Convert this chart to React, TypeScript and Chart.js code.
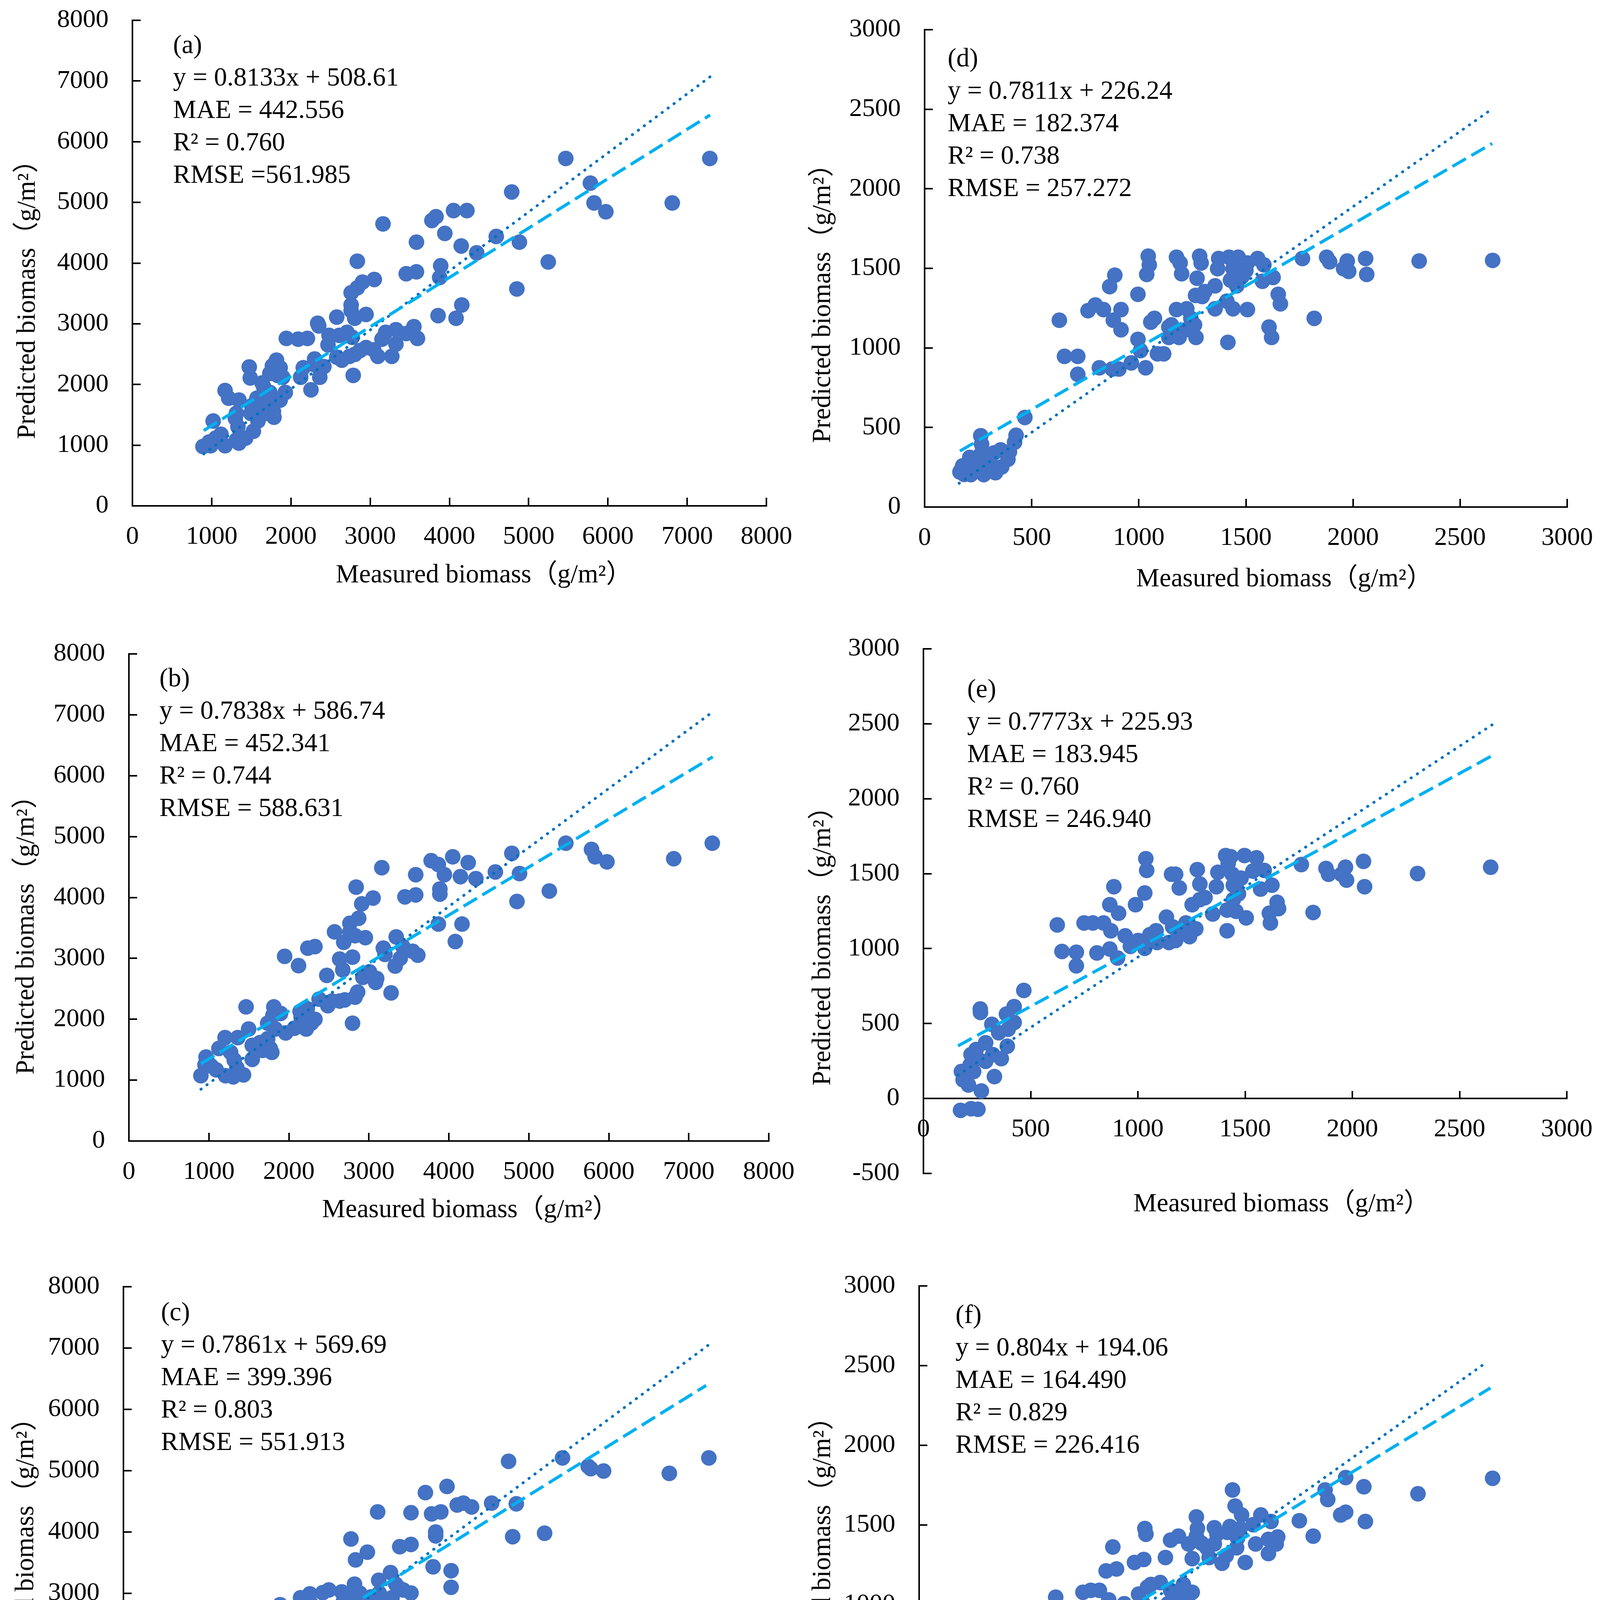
import React, { useEffect, useRef } from "react";
import { Chart, registerables } from "chart.js";

Chart.register(...registerables);

const SERIF = '"Liberation Serif", "Times New Roman", "Noto Sans CJK SC", serif';

// ---------- tick values ----------
const TICKS_8000 = [0, 1000, 2000, 3000, 4000, 5000, 6000, 7000, 8000];
const TICKS_3000 = [0, 500, 1000, 1500, 2000, 2500, 3000];
const TICKS_E_Y = [-500, 0, 500, 1000, 1500, 2000, 2500, 3000];

const X_TITLE = "Measured biomass（g/m²）";
const Y_TITLE = "Predicted biomass（g/m²）";

// ---------- panel (a) ----------
const A_POINTS = [[5468,5724],[7286,5724],[5779,5317],[4786,5172],[5825,4991],[6812,4991],[5974,4846],[4052,4865],[4221,4865],[3831,4765],[3779,4702],[3162,4646],[3942,4489],[4591,4439],[4883,4345],[3584,4345],[4149,4282],[4344,4169],[2838,4031],[5247,4019],[3890,3956],[3455,3824],[3584,3856],[3877,3762],[3052,3730],[2903,3687],[2838,3592],[2760,3511],[4851,3574],[4156,3310],[3857,3135],[4084,3091],[2578,3110],[2948,3154],[2760,3310],[2760,3216],[2805,3091],[2338,3009],[2351,2966],[3325,2903],[3195,2859],[3552,2953],[3455,2840],[2610,2809],[2708,2859],[2773,2777],[3597,2759],[3149,2746],[3325,2665],[1942,2759],[2091,2746],[2208,2759],[2481,2809],[2468,2652],[2948,2608],[2870,2558],[3045,2571],[3097,2464],[3273,2464],[2805,2495],[2740,2464],[2643,2401],[2578,2451],[2299,2420],[2305,2320],[2416,2295],[1818,2401],[1864,2276],[1766,2307],[1831,2150],[1734,2182],[2156,2276],[2123,2119],[2364,2119],[1896,2119],[1636,2025],[2786,2150],[1474,2288],[1487,2107],[1656,1962],[1734,1868],[1929,1868],[1864,1743],[2253,1912],[1169,1900],[1214,1774],[1344,1743],[1571,1774],[1701,1743],[1506,1649],[1604,1618],[1766,1649],[1779,1555],[1701,1524],[1786,1461],[1312,1524],[1299,1442],[1494,1524],[1584,1398],[1019,1398],[1331,1304],[1526,1229],[1117,1179],[1052,1116],[968,1053],[890,978],[987,991],[1169,991],[1312,1085],[1429,1116],[1344,1034]];
const A_TREND_X = [900, 7290];
const A_TREND_Y = [1241, 6440];
const A_REF_X = [900, 7290];
const A_REF_Y = [855, 7070];
const A_NOTES = ["(a)", "y = 0.8133x + 508.61", "MAE = 442.556", "R² = 0.760", "RMSE =561.985"];

// ---------- panel (b) ----------
const B_POINTS = [[5463,4891],[7294,4891],[5784,4789],[5829,4668],[6812,4636],[5977,4585],[4788,4725],[4049,4668],[3779,4604],[3869,4540],[4242,4572],[3162,4489],[3945,4374],[4582,4419],[4884,4393],[3586,4374],[4145,4342],[4338,4310],[2841,4170],[5257,4106],[3888,4138],[3888,4055],[3586,4042],[3451,4010],[3053,3991],[2911,3895],[4852,3934],[2873,3659],[2763,3576],[3869,3563],[4165,3563],[2763,3435],[2571,3435],[2828,3372],[3342,3352],[4081,3276],[2956,3340],[2686,3263],[2326,3193],[2237,3167],[3181,3167],[3201,3065],[3425,3193],[3548,3116],[3612,3052],[1947,3033],[2796,3020],[2635,2988],[3393,3001],[3329,2874],[2121,2880],[2674,2810],[2474,2720],[3008,2778],[2925,2688],[3098,2669],[3085,2605],[3278,2433],[2860,2446],[2828,2363],[2699,2318],[2635,2299],[2539,2299],[2796,1935],[2378,2331],[2487,2222],[2326,1999],[2281,1935],[2217,1839],[2140,2126],[2230,2171],[2153,2031],[1812,2203],[1896,2095],[1800,2063],[1735,1935],[1831,1839],[1960,1775],[2069,1852],[1465,2203],[1497,1839],[1542,1571],[1639,1616],[1735,1679],[1767,1520],[1787,1456],[1671,1488],[1542,1341],[1607,1488],[1202,1699],[1362,1699],[1125,1520],[1272,1456],[1317,1328],[1350,1200],[964,1379],[951,1252],[1028,1232],[1092,1169],[1208,1073],[1305,1054],[1433,1086],[900,1073],[983,1296]];
const B_TREND_X = [900, 7300];
const B_TREND_Y = [1270, 6309];
const B_REF_X = [900, 7260];
const B_REF_Y = [850, 7010];
const B_NOTES = ["(b)", "y = 0.7838x + 586.74", "MAE = 452.341", "R² = 0.744", "RMSE = 588.631"];

// ---------- panel (c) ----------
const C_POINTS = [[5463,5209],[7284,5209],[4792,5153],[5783,5071],[5815,5033],[5974,4995],[6792,4957],[4026,4743],[3757,4643],[4153,4441],[4230,4472],[4332,4409],[4581,4472],[4888,4460],[3163,4328],[3578,4315],[3834,4296],[3949,4328],[3885,4000],[3885,3937],[5240,3981],[4843,3924],[2831,3887],[3438,3761],[3578,3798],[3035,3672],[2888,3546],[3853,3433],[4077,3370],[3323,3339],[4077,3099],[3176,3213],[2875,3150],[3387,3150],[3419,3099],[2556,3055],[2479,3011],[2319,2992],[2204,2929],[2716,3024],[2939,3005],[3182,3005],[3578,3005],[3482,3055],[3080,2942],[2831,2929],[1949,2816],[2332,2835],[2735,2866],[3016,2866],[3304,2866],[3208,2753],[3342,2929],[2875,2803],[2652,2740],[2460,2740],[2109,2677],[3003,2740],[2856,2665],[2760,2583],[2300,2564],[2364,2501],[2588,2488],[2652,2457],[2441,2287],[2281,2249],[2172,2110],[2141,2142],[1789,2331],[1457,2142],[1789,2110],[1853,2047],[1917,1984],[2377,1997],[2249,1921],[2045,1921],[2780,2016],[1502,1846],[1789,1858],[1661,1795],[1885,1795],[1949,1827],[1693,1701],[1789,1638],[1585,1638],[1565,1512],[1789,1543],[1534,1405],[1182,1575],[1227,1682],[1342,1638],[1278,1405],[1310,1291],[1329,1209],[1419,1209],[1137,1178],[1022,1228],[958,1165],[882,1165],[1086,1134],[1182,1165]];
const C_TREND_X = [895, 7250];
const C_TREND_Y = [1235, 6390];
const C_REF_X = [895, 7285];
const C_REF_Y = [830, 7055];
const C_NOTES = ["(c)", "y = 0.7861x + 569.69", "MAE = 399.396", "R² = 0.803", "RMSE = 551.913"];

// ---------- panel (d) ----------
const D_POINTS = [[2652,1550],[2309,1546],[2059,1562],[2064,1462],[1973,1546],[1980,1481],[1956,1498],[1877,1570],[1891,1541],[1764,1562],[1819,1186],[1651,1337],[1661,1277],[1608,1131],[1620,1066],[1627,1443],[1577,1419],[1555,1562],[1584,1522],[1507,1241],[1507,1534],[1500,1486],[1483,1450],[1464,1570],[1421,1570],[1471,1529],[1440,1498],[1428,1426],[1411,1294],[1440,1246],[1416,1035],[1457,1390],[1373,1562],[1368,1498],[1356,1390],[1356,1246],[1308,1354],[1296,1323],[1284,1577],[1291,1534],[1272,1438],[1265,1330],[1260,1145],[1267,1066],[1243,1186],[1224,1246],[1219,1114],[1176,1570],[1193,1534],[1200,1466],[1176,1241],[1188,1066],[1152,1145],[1140,1066],[1140,1131],[1073,1186],[1056,1162],[1044,1577],[1049,1522],[1037,1462],[1087,963],[1116,963],[1008,983],[996,1054],[996,1337],[1032,875],[965,906],[917,1114],[917,1241],[888,1457],[864,1385],[881,1174],[876,867],[907,867],[816,875],[835,1241],[797,1270],[763,1234],[715,947],[715,834],[653,947],[629,1174],[468,563],[427,451],[420,407],[396,347],[389,300],[355,359],[360,252],[324,340],[300,288],[276,228],[264,335],[252,300],[211,312],[262,448],[266,395],[221,252],[168,228],[192,216],[165,220],[178,259],[240,276],[276,204],[324,252],[331,216],[216,204],[185,205]];
const D_TREND_X = [165, 2650];
const D_TREND_Y = [352, 2285];
const D_REF_X = [161, 2652];
const D_REF_Y = [149, 2504];
const D_NOTES = ["(d)", "y = 0.7811x + 226.24", "MAE = 182.374", "R² = 0.738", "RMSE = 257.272"];

// ---------- panel (e) ----------
const E_POINTS = [[2645,1543],[2304,1501],[2052,1582],[2057,1413],[1968,1543],[1973,1457],[1949,1496],[1877,1535],[1889,1496],[1762,1561],[1817,1241],[1625,1423],[1649,1309],[1656,1267],[1613,1236],[1618,1171],[1572,1397],[1553,1606],[1589,1522],[1536,1517],[1497,1621],[1505,1205],[1481,1470],[1457,1418],[1469,1366],[1433,1613],[1409,1621],[1421,1569],[1440,1496],[1445,1423],[1445,1327],[1416,1257],[1416,1119],[1457,1249],[1373,1509],[1366,1413],[1349,1231],[1313,1340],[1289,1327],[1277,1527],[1289,1431],[1270,1132],[1253,1293],[1241,1080],[1224,1171],[1205,1119],[1193,1405],[1176,1496],[1157,1496],[1162,1145],[1133,1210],[1145,1041],[1176,1054],[1085,1119],[1056,1093],[1049,1054],[1090,1041],[1037,1600],[1041,1522],[1032,1371],[989,1293],[1001,1054],[1032,1002],[965,1015],[941,1085],[910,1236],[888,1413],[869,1293],[874,1119],[869,997],[905,937],[809,971],[840,1171],[790,1171],[749,1171],[713,976],[713,885],[646,981],[624,1158],[173,-79],[222,-68],[254,-72],[270,50],[331,146],[185,124],[210,90],[234,180],[177,180],[218,225],[250,270],[222,293],[246,327],[290,248],[323,293],[363,266],[391,349],[290,372],[319,495],[351,439],[395,462],[423,507],[387,563],[423,613],[266,574],[265,597],[468,721]];
const E_TREND_X = [161, 2657];
const E_TREND_Y = [351, 2291];
const E_REF_X = [161, 2657];
const E_REF_Y = [156, 2498];
const E_NOTES = ["(e)", "y = 0.7773x + 225.93", "MAE = 183.945", "R² = 0.760", "RMSE = 246.940"];

// ---------- panel (f) ----------
const F_POINTS = [[2650,1793],[2305,1696],[2055,1740],[2062,1522],[1971,1798],[1971,1580],[1948,1563],[1876,1720],[1888,1660],[1757,1527],[1821,1430],[1657,1425],[1650,1381],[1614,1321],[1614,1410],[1626,1522],[1579,1563],[1543,1502],[1555,1381],[1507,1265],[1490,1563],[1483,1478],[1471,1417],[1448,1720],[1460,1619],[1436,1490],[1424,1454],[1419,1308],[1467,1357],[1400,1260],[1364,1483],[1376,1442],[1364,1381],[1329,1357],[1340,1296],[1305,1386],[1281,1551],[1286,1478],[1281,1430],[1245,1381],[1262,1289],[1262,1078],[1245,1006],[1233,1071],[1198,1430],[1162,1405],[1221,1127],[1198,1066],[1181,1018],[1162,1090],[1138,1296],[1150,1006],[1114,1139],[1071,1127],[1055,1110],[1043,1478],[1048,1442],[1038,1284],[995,1265],[1014,1066],[1031,1018],[1002,897],[948,1006],[912,1224],[895,1362],[864,1212],[876,1030],[876,974],[810,926],[833,1090],[793,1090],[757,1078],[912,727],[710,751],[710,671],[650,872],[631,1047],[471,497],[424,521],[419,460],[424,412],[395,388],[364,327],[388,339],[329,279],[305,327],[300,388],[276,363],[269,303],[245,388],[233,339],[221,242],[186,254],[174,230],[210,291],[281,230],[293,267],[257,254],[245,206],[165,230],[210,218]];
const F_TREND_X = [169, 2640];
const F_TREND_Y = [318, 2360];
const F_REF_X = [169, 2626];
const F_REF_Y = [150, 2525];
const F_NOTES = ["(f)", "y = 0.804x + 194.06", "MAE = 164.490", "R² = 0.829", "RMSE = 226.416"];

type Spec = {
  points: number[][];
  trendX: number[];
  trendY: number[];
  refX: number[];
  refY: number[];
  notes: string[];
  xTicks: number[];
  yTicks: number[];
  crossZero?: boolean;
  L: number; R: number; T: number; B: number;
  noteX: number; noteY: number;
  xtX: number; xtY: number;
  ytX: number; ytY: number;
};

const PANELS: Spec[] = [
  { points: A_POINTS, trendX: A_TREND_X, trendY: A_TREND_Y, refX: A_REF_X, refY: A_REF_Y, notes: A_NOTES, xTicks: TICKS_8000, yTicks: TICKS_8000,
    L: 339, R: 1962, T: 52, B: 1295, noteX: 443, noteY: 113, xtX: 1239, xtY: 1468, ytX: 66, ytY: 750 },
  { points: B_POINTS, trendX: B_TREND_X, trendY: B_TREND_Y, refX: B_REF_X, refY: B_REF_Y, notes: B_NOTES, xTicks: TICKS_8000, yTicks: TICKS_8000,
    L: 330, R: 1968, T: 1674, B: 2921, noteX: 408, noteY: 1734, xtX: 1204, xtY: 3093, ytX: 63, ytY: 2377 },
  { points: C_POINTS, trendX: C_TREND_X, trendY: C_TREND_Y, refX: C_REF_X, refY: C_REF_Y, notes: C_NOTES, xTicks: TICKS_8000, yTicks: TICKS_8000,
    L: 316, R: 1962, T: 3294, B: 4550, noteX: 412, noteY: 3357, xtX: 1221, xtY: 4722, ytX: 62, ytY: 3970 },
  { points: D_POINTS, trendX: D_TREND_X, trendY: D_TREND_Y, refX: D_REF_X, refY: D_REF_Y, notes: D_NOTES, xTicks: TICKS_3000, yTicks: TICKS_3000,
    L: 2367, R: 4012, T: 76, B: 1298, noteX: 2426, noteY: 147, xtX: 3288, xtY: 1478, ytX: 2102, ytY: 760 },
  { points: E_POINTS, trendX: E_TREND_X, trendY: E_TREND_Y, refX: E_REF_X, refY: E_REF_Y, notes: E_NOTES, xTicks: TICKS_3000, yTicks: TICKS_E_Y, crossZero: true,
    L: 2364, R: 4011, T: 1661, B: 3004, noteX: 2476, noteY: 1762, xtX: 3281, xtY: 3078, ytX: 2102, ytY: 2405 },
  { points: F_POINTS, trendX: F_TREND_X, trendY: F_TREND_Y, refX: F_REF_X, refY: F_REF_Y, notes: F_NOTES, xTicks: TICKS_3000, yTicks: TICKS_3000,
    L: 2353, R: 4015, T: 3292, B: 4516, noteX: 2446, noteY: 3364, xtX: 3285, xtY: 4692, ytX: 2102, ytY: 3968 },
];

const Y_AXIS_W = 300;
const X_AXIS_H = 150;
// layout paddings must exceed the scales' own label padding (half label + tick padding)
const PAD_TOP = 140;
const PAD_RIGHT = 150;
const PAD_BOTTOM_CROSS = 140;
const PAD_BOTTOM = 10;
const TEXT_SIZE = 67;
const TICK_SIZE = 66;
const NOTE_PITCH = 83;

function Panel({ s }: { s: Spec }) {
  const ref = useRef<HTMLCanvasElement>(null);
  const padBottom = s.crossZero ? PAD_BOTTOM_CROSS : PAD_BOTTOM;
  const cw = s.R - s.L + Y_AXIS_W + PAD_RIGHT;
  const ch = s.B - s.T + PAD_TOP + (s.crossZero ? 0 : X_AXIS_H) + padBottom;
  const cl = s.L - Y_AXIS_W;
  const ct = s.T - PAD_TOP;

  useEffect(() => {
    const canvas = ref.current;
    if (!canvas) return;
    const tickFont = { family: SERIF, size: TICK_SIZE, lineHeight: 1.2 };
    const grid = {
      display: true,
      drawOnChartArea: false,
      drawTicks: true,
      tickLength: -21,
      tickWidth: 4,
      tickColor: "#000",
      color: "#000",
      lineWidth: 4,
    };
    const border = { display: true, color: "#000", width: 4 };
    const chart = new Chart(canvas, {
      type: "scatter",
      data: {
        datasets: [
          {
            label: "fit",
            data: s.trendX.map((x, i) => ({ x, y: s.trendY[i] })),
            showLine: true,
            borderColor: "#00B0F0",
            borderWidth: 8,
            borderDash: [40, 16],
            pointRadius: 0,
            fill: false,
          },
          {
            label: "ref",
            data: s.refX.map((x, i) => ({ x, y: s.refY[i] })),
            showLine: true,
            borderColor: "#0070C0",
            borderWidth: 7,
            borderDash: [1, 18],
            borderCapStyle: "round",
            pointRadius: 0,
            fill: false,
          },
          {
            label: "samples",
            data: s.points.map(([x, y]) => ({ x, y })),
            showLine: false,
            pointRadius: 20,
            pointBackgroundColor: "#4472C4",
            pointBorderWidth: 0,
            backgroundColor: "#4472C4",
            borderColor: "#4472C4",
          },
        ],
      },
      options: {
        responsive: false,
        animation: false,
        devicePixelRatio: 1,
        events: [],
        layout: { padding: { left: 0, top: PAD_TOP, right: PAD_RIGHT, bottom: padBottom } },
        plugins: { legend: { display: false }, tooltip: { enabled: false } },
        scales: {
          x: {
            type: "linear",
            position: s.crossZero ? { y: 0 } : "bottom",
            min: s.xTicks[0],
            max: s.xTicks[s.xTicks.length - 1],
            afterBuildTicks: (sc: any) => {
              sc.ticks = s.xTicks.map((v) => ({ value: v }));
            },
            afterFit: (sc: any) => {
              sc.height = X_AXIS_H;
            },
            grid,
            border,
            ticks: {
              font: tickFont,
              color: "#000",
              padding: 61,
              maxRotation: 0,
              minRotation: 0,
              autoSkip: false,
              callback: (v: any) => String(v),
            },
          },
          y: {
            type: "linear",
            position: "left",
            min: s.yTicks[0],
            max: s.yTicks[s.yTicks.length - 1],
            afterBuildTicks: (sc: any) => {
              sc.ticks = s.yTicks.map((v) => ({ value: v }));
            },
            afterFit: (sc: any) => {
              sc.width = Y_AXIS_W;
            },
            grid,
            border,
            ticks: {
              font: tickFont,
              color: "#000",
              padding: 82,
              autoSkip: false,
              callback: (v: any) => String(v),
            },
          },
        },
      } as any,
    });
    return () => chart.destroy();
  }, []);

  return (
    <>
      <canvas
        ref={ref}
        width={cw}
        height={ch}
        style={{ position: "absolute", left: cl, top: ct, width: cw, height: ch }}
      />
      <div
        style={{
          position: "absolute",
          left: s.noteX,
          top: s.noteY - NOTE_PITCH / 2,
          fontFamily: SERIF,
          fontSize: TEXT_SIZE,
          lineHeight: `${NOTE_PITCH}px`,
          color: "#000",
          whiteSpace: "pre",
        }}
      >
        {s.notes.map((t, i) => (
          <div key={i}>{t}</div>
        ))}
      </div>
      <div
        style={{
          position: "absolute",
          left: s.xtX,
          top: s.xtY,
          transform: "translate(-50%, -50%)",
          fontFamily: SERIF,
          fontSize: TEXT_SIZE,
          lineHeight: "80px",
          color: "#000",
          whiteSpace: "nowrap",
        }}
      >
        {X_TITLE}
      </div>
      <div
        style={{
          position: "absolute",
          left: s.ytX,
          top: s.ytY,
          transform: "translate(-50%, -50%) rotate(-90deg)",
          fontFamily: SERIF,
          fontSize: TEXT_SIZE,
          lineHeight: "80px",
          color: "#000",
          whiteSpace: "nowrap",
        }}
      >
        {Y_TITLE}
      </div>
    </>
  );
}

export default function App() {
  return (
    <div
      style={{
        position: "absolute",
        left: 0,
        top: 0,
        width: 4128,
        height: 4779,
        background: "#fff",
        overflow: "hidden",
      }}
    >
      {PANELS.map((s, i) => (
        <Panel key={i} s={s} />
      ))}
    </div>
  );
}
